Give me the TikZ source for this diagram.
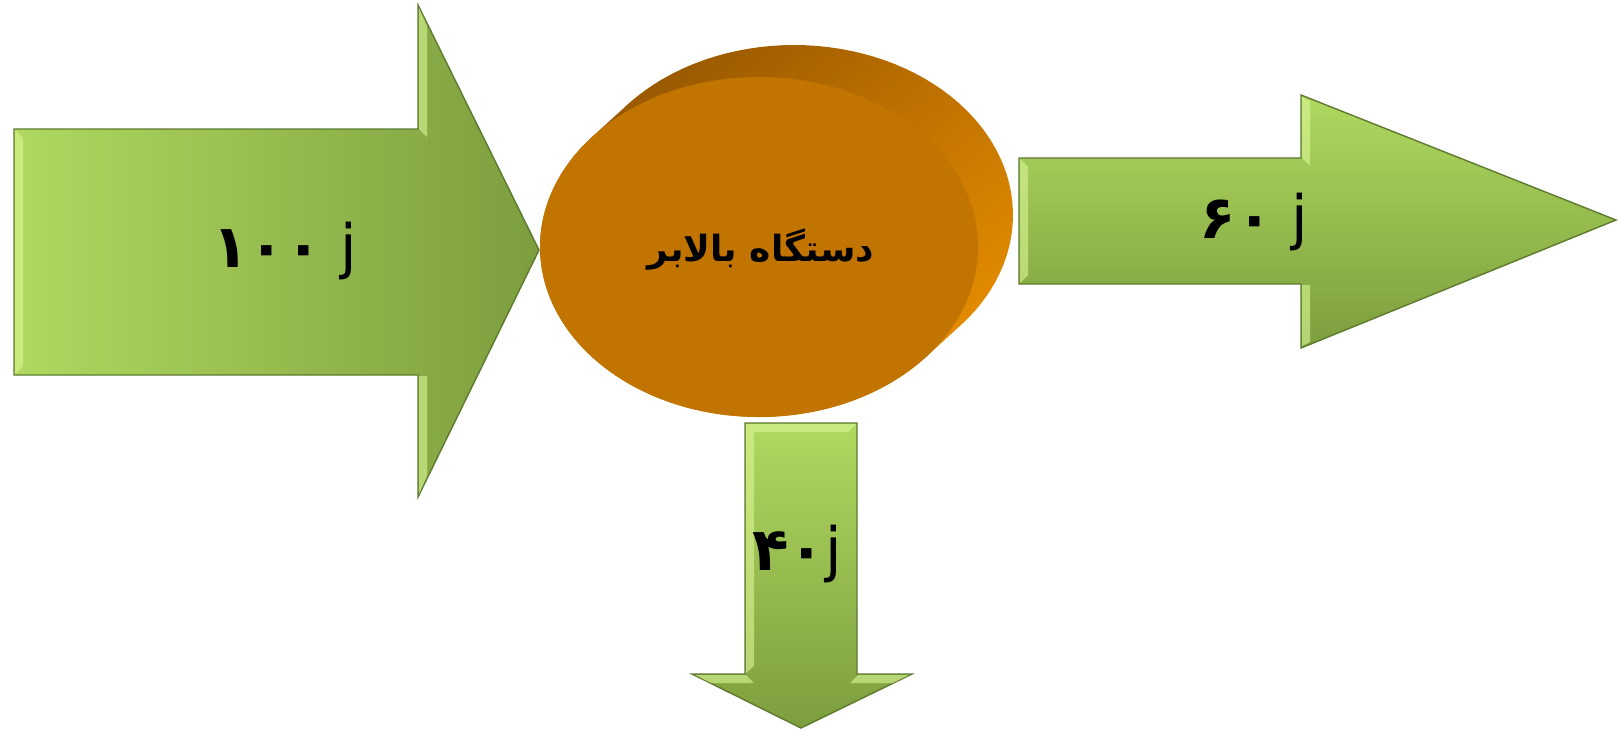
\documentclass[tikz,border=0pt]{standalone}
\usepackage{fontspec}
\usepackage{tikz}
\usetikzlibrary{shapes,arrows,positioning,calc}
\TeXXeTstate=1
\newfontfamily\arabicfont[Script=Arabic]{DejaVu Sans}
\definecolor{greenlight}{HTML}{AFD960}
\definecolor{greendark}{HTML}{7C9E3E}
\definecolor{greenedge}{HTML}{5E7A2E}
\definecolor{greenbevel}{HTML}{DAF796}
\definecolor{bodyfront}{HTML}{C27400}
\definecolor{bodydark}{HTML}{985800}
\definecolor{bodybright}{HTML}{E58C00}

\begin{document}
\begin{tikzpicture}[x=0.02cm, y=-0.02cm,
    flow/.style={draw=greenedge, line width=0.8pt, line join=miter},
    bevel/.style={fill=greenbevel, opacity=0.6},
    amount/.style={font=\arabicfont\fontsize{34}{40}\selectfont, text=black, inner sep=0pt},
    device/.style={font=\arabicfont\bfseries\fontsize{20.5}{26}\selectfont, text=black, inner sep=0pt}
]
\useasboundingbox (0,0) rectangle (1619,731);

% Input energy arrow
\shadedraw[flow, left color=greenlight, right color=greendark]
    (14,129) -- (418,129) -- (418,5) -- (539,250) -- (418,497) -- (418,375) -- (14,375) -- cycle;
\fill[bevel] (15,130) -- (23,138) -- (23,366) -- (15,374) -- cycle;
\fill[bevel] (419,8) -- (419,129) -- (427,137) -- (427,26) -- cycle;
\fill[bevel] (419,376) -- (419,494) -- (427,476) -- (427,376) -- cycle;

% Useful energy arrow
\shadedraw[flow, top color=greenlight, bottom color=greendark]
    (1019,158) -- (1301,158) -- (1301,95) -- (1616,220) -- (1301,348) -- (1301,284) -- (1019,284) -- cycle;
\fill[bevel] (1020,159) -- (1028,167) -- (1028,275) -- (1020,283) -- cycle;
\fill[bevel] (1302,97) -- (1302,158) -- (1310,166) -- (1310,101) -- cycle;
\fill[bevel] (1302,285) -- (1302,346) -- (1310,342) -- (1310,285) -- cycle;

% Wasted energy arrow
\shadedraw[flow, top color=greenlight, bottom color=greendark]
    (745,423) -- (857,423) -- (857,674) -- (912,674) -- (801,728) -- (692,674) -- (745,674) -- cycle;
\fill[bevel] (746,424) -- (754,432) -- (754,666) -- (746,673) -- cycle;
\fill[bevel] (746,424) -- (856,424) -- (848,432) -- (754,432) -- cycle;
\fill[bevel] (695,675) -- (746,675) -- (754,683) -- (711,683) -- cycle;
\fill[bevel] (858,675) -- (909,675) -- (893,683) -- (850,683) -- cycle;

% Device (cylinder)
\shade[top color=bodydark, bottom color=bodybright, shading angle=40]
    plot[domain=221.23:401.23, samples=60] ({794+219*cos(\x)},{215+170*sin(\x)})
    -- plot[domain=41.23:221.23, samples=60] ({759+219*cos(\x)},{247+170*sin(\x)}) -- cycle;
\fill[bodyfront] (759,247) ellipse [x radius=219, y radius=170];

% Labels
\node[device] (lift) at (761,250) {\beginR دستگاه بالابر\endR};
\node[amount] (input) at (285,251) {{\bfseries ۱۰۰} j};
\node[amount] (useful) at (1254,222) {{\bfseries ۶۰} j};
\node[amount] (waste) at (797,554) {{\bfseries ۴۰}j};

\end{tikzpicture}
\end{document}
